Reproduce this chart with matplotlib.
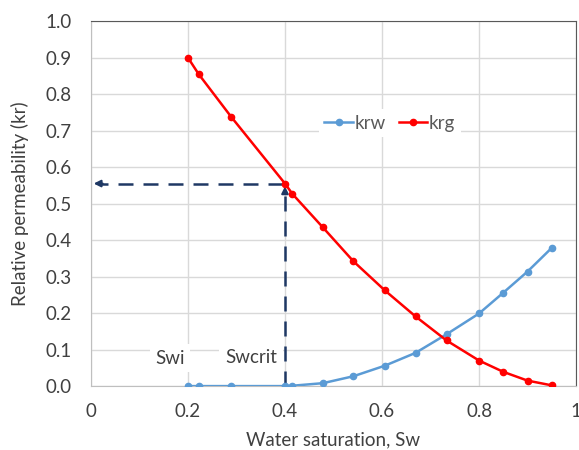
import numpy as np
import matplotlib.pyplot as plt

plt.rcParams['font.family'] = ['Lato', 'DejaVu Sans']

# relative permeability table
sw = [0.2, 0.222, 0.289, 0.4, 0.415, 0.478, 0.541, 0.606, 0.669, 0.733, 0.8, 0.85, 0.9, 0.95]
krw = [0.0, 0.0, 0.0, 0.0, 0.001, 0.008, 0.027, 0.056, 0.091, 0.142, 0.199, 0.256, 0.314, 0.379]
krg = [0.9, 0.855, 0.738, 0.555, 0.527, 0.435, 0.342, 0.262, 0.191, 0.125, 0.070, 0.039, 0.015, 0.002]

sw_crit = 0.4
krg_crit = 0.555

fig = plt.figure(figsize=(5.79, 4.5), dpi=100)
ax = fig.add_axes([0.157, 0.142, 0.838, 0.811])

ax.plot(sw, krw, '-o', color='#5b9bd5', lw=1.8, ms=4.5, label='krw', zorder=3)
ax.plot(sw, krg, '-o', color='#ff0000', lw=1.8, ms=4.5, label='krg', zorder=3)

# dashed guides from the critical point to the axes
navy = '#1f3864'
ax.plot([sw_crit, sw_crit], [0, krg_crit - 0.02], ls=(0, (6, 4)), color=navy, lw=1.8, zorder=2)
ax.plot([sw_crit - 0.005, 0.02], [krg_crit, krg_crit], ls=(0, (6, 4)), color=navy, lw=1.8, zorder=2)
ax.annotate('', xy=(sw_crit, krg_crit), xytext=(sw_crit, krg_crit - 0.03),
            arrowprops=dict(arrowstyle='-|>', color=navy, lw=1.5, mutation_scale=10), zorder=2)
ax.annotate('', xy=(0.0, krg_crit), xytext=(0.03, krg_crit),
            arrowprops=dict(arrowstyle='-|>', color=navy, lw=1.5, mutation_scale=10), zorder=2)

ax.text(0.163, 0.076, 'Swi', fontsize=13.5, color='#404040', ha='center', va='center',
        bbox=dict(facecolor='white', edgecolor='none', pad=4), zorder=4)
ax.text(0.33, 0.078, 'Swcrit', fontsize=13.5, color='#404040', ha='center', va='center',
        bbox=dict(facecolor='white', edgecolor='none', pad=4), zorder=4)

ax.set_xlim(0, 1)
ax.set_ylim(0, 1)
ax.set_xticks(np.arange(0, 1.01, 0.2))
ax.set_xticklabels(['0', '0.2', '0.4', '0.6', '0.8', '1'])
ax.set_yticks(np.arange(0, 1.01, 0.1))
ax.set_yticklabels([f'{v:.1f}' for v in np.arange(0, 1.01, 0.1)])
ax.tick_params(length=0, labelsize=13.5, labelcolor='#404040')
ax.tick_params(axis='y', pad=14)
ax.tick_params(axis='x', pad=12)
ax.grid(True, color='#d9d9d9', lw=1)
ax.set_axisbelow(True)

for side in ['top', 'right']:
    ax.spines[side].set_color('#595959')
for side in ['left', 'bottom']:
    ax.spines[side].set_color('#bfbfbf')

ax.set_xlabel('Water saturation, Sw', fontsize=13.5, color='#404040', labelpad=8)
ax.set_ylabel('Relative permeability (kr)', fontsize=13.5, color='#404040', labelpad=12)

leg = ax.legend(loc='center', bbox_to_anchor=(0.616, 0.72), ncol=2, frameon=True,
                fontsize=13.5, handlelength=1.5, columnspacing=0.7, handletextpad=0.1,
                borderpad=0.3)
leg.get_frame().set_facecolor('white')
leg.get_frame().set_edgecolor('none')
leg.get_frame().set_alpha(1)
for t in leg.get_texts():
    t.set_color('#595959')

fig.savefig('out.png', dpi=100)
